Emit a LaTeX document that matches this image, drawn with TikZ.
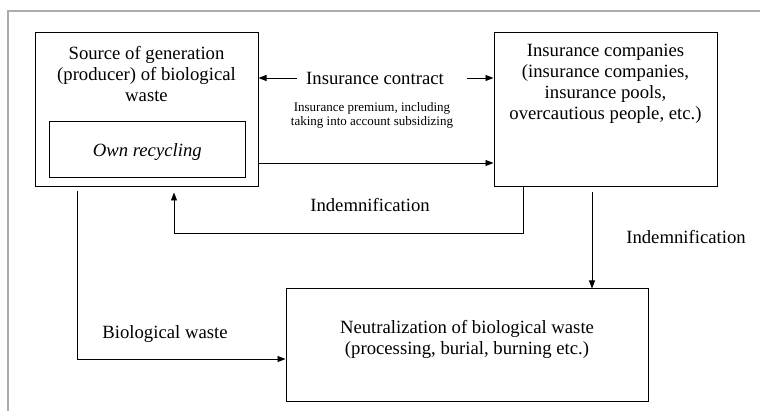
\documentclass[tikz,border=0pt]{standalone}
\usepackage{fontspec}
\setmainfont{Liberation Serif}
\usetikzlibrary{arrows.meta}
\definecolor{framegray}{RGB}{172,172,172}
\tikzset{
  box/.style={draw=black, line width=1pt, inner sep=0pt},
  txt/.style={align=center, inner sep=0pt, font=\fontsize{18.7}{21}\selectfont},
  smalltxt/.style={align=center, inner sep=0pt, font=\fontsize{13}{14}\selectfont},
  arr/.style={draw=black, line width=0.9pt, -{Triangle[length=8pt,width=6pt]}},
  ln/.style={draw=black, line width=0.9pt}
}
\begin{document}
\begin{tikzpicture}[x=1pt,y=-1pt]
\useasboundingbox (0,0) rectangle (760,411);
\clip (0,0) rectangle (760,411);
\fill[white] (0,0) rectangle (760,411);
% outer frame
\draw[framegray, line width=2pt] (8,420) -- (8,11) -- (770,11);
% boxes
\node[box, minimum width=223pt, minimum height=154pt] (src) at (146.5,110) {};
\node[txt] (srct) at (146.5,74) {Source of generation\\(producer) of biological\\waste};
\node[box, minimum width=195.5pt, minimum height=56pt] (own) at (147.25,150) {};
\node[txt, font=\fontsize{18.7}{21}\selectfont\itshape] (ownt) at (147.25,152) {Own recycling};
\node[box, minimum width=223pt, minimum height=154pt] (ins) at (605.5,110) {};
\node[txt] (inst) at (605.5,84) {Insurance companies\\(insurance companies,\\insurance pools,\\overcautious people, etc.)};
\node[box, minimum width=362pt, minimum height=112pt] (neu) at (467,345) {};
\node[txt] (neut) at (467,339) {Neutralization of biological waste\\(processing, burial, burning etc.)};
% insurance contract
\node[txt] (ic) at (375,78) {Insurance contract};
\coordinate (icl) at (297,78);
\coordinate (icr) at (467,78);
\draw[arr] (icl) -- (src.east |- icl);
\draw[arr] (icr) -- (ins.west |- icr);
% premium
\node[smalltxt] (prem) at (372,115) {Insurance premium, including\\taking into account subsidizing};
\draw[arr] ([yshift=-53pt]src.east) -- ([yshift=-53pt]ins.west);
% indemnification back to source
\coordinate (r1) at (523,233);
\coordinate (r2) at (174,233);
\draw[arr] (ins.south -| r1) -- (r1) -- (r2) -- ([yshift=-5pt]src.south -| r2);
\node[txt] (ind1) at (370,205) {Indemnification};
% indemnification down to neutralization
\coordinate (dx) at (592,240);
\draw[arr] ([yshift=-5pt]ins.south -| dx) -- (neu.north -| dx);
\node[txt] (ind2) at (686,237) {Indemnification};
% biological waste
\coordinate (bw) at (77,359);
\draw[arr] ([yshift=-4pt]src.south -| bw) -- (bw) -- (neu.west |- bw);
\node[txt] (bwt) at (165,334) {Biological waste};
\end{tikzpicture}
\end{document}
